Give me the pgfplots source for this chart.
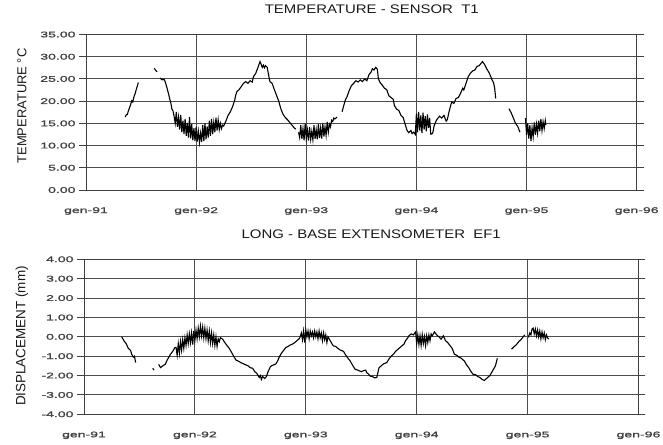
\documentclass[border=0pt]{standalone}
\usepackage{fontspec}
\setmainfont{Liberation Sans}
\newfontfamily\titlefont{Liberation Sans}[FakeStretch=1.2]
\newfontfamily\tickfont{Liberation Sans}[FakeStretch=1.7,FakeBold=1.2]
\usepackage{pgfplots}
\pgfplotsset{compat=1.18}
\pgfplotsset{
  tline/.style={black, line width=1.1bp, mark=none},
  myaxis/.style={
    scale only axis,
    anchor=south west,
    axis lines=box,
    xmin=1991, xmax=1996,
    xtick={1991,1992,1993,1994,1995,1996},
    xticklabels={gen-91,gen-92,gen-93,gen-94,gen-95,gen-96},
    grid=major,
    grid style={black!70, line width=0.9bp},
    axis line style={black!75, line width=0.9bp},
    tick align=outside,
    major tick length=7bp,
    xtick style={draw=none},
    ytick style={black!75, line width=0.9bp},
    xticklabel style={font=\tickfont\fontsize{8.3}{9}\selectfont, text=black!75, anchor=center, yshift=-14bp},
    yticklabel style={font=\tickfont\fontsize{8.3}{9}\selectfont, text=black!75, anchor=east},
    title style={font=\titlefont\fontsize{12.5}{14}\selectfont, text=black!90, anchor=base},
    ylabel style={rotate=0, anchor=center, text=black!90},
  }
}
\begin{document}
\begin{tikzpicture}
\useasboundingbox (0,0) rectangle (663bp,445bp);
%------------------------------------------------ TOP
\begin{axis}[myaxis,
  at={(86bp,255bp)}, width=550.7bp, height=155.5bp,
  ymin=0, ymax=35, ytick={0,5,10,15,20,25,30,35},
  yticklabels={0.00,5.00,10.00,15.00,20.00,25.00,30.00,35.00},
  title={TEMPERATURE - SENSOR~~T1},
  title style={at={(axis description cs:0.519,1)}, yshift=15bp},
  ylabel={TEMPERATURE °C},
  ylabel style={at={(axis description cs:-0.1162,0.54)}, font=\fontsize{13}{15}\selectfont},
]
\addplot[tline] coordinates {(1991.355,16.4) (1991.365,16.9) (1991.375,17.0) (1991.385,17.8) (1991.395,18.5) (1991.405,19.2) (1991.415,20.1) (1991.425,19.8) (1991.435,21.0) (1991.445,21.6) (1991.455,22.5) (1991.465,23.3) (1991.475,24.2)};
\addplot[tline] coordinates {(1991.62,27.4) (1991.63,27.0) (1991.645,26.6)};
\addplot[tline] coordinates {(1991.673,25.2)(1991.69,24.8)(1991.71,24.9)(1991.72,24.3)(1991.735,23.0)(1991.75,21.6)(1991.76,20.5)(1991.77,19.6)(1991.78,18.2)(1991.79,17.8)(1991.80,16.6)
(1991.81,15.0)(1991.82,17.6)(1991.83,14.2)(1991.84,16.4)(1991.85,13.6)(1991.86,16.9)(1991.87,13.0)(1991.88,15.6)(1991.89,12.6)(1991.90,16.0)(1991.91,12.2)(1991.92,15.1)(1991.93,11.8)(1991.94,16.4)(1991.95,11.6)(1991.96,14.8)(1991.97,11.2)(1991.98,13.9)(1991.99,11.0)(1992.00,14.2)(1992.01,10.9)(1992.02,13.2)(1992.03,10.7)(1992.04,12.8)(1992.05,10.8)(1992.06,14.6)(1992.07,11.0)(1992.08,15.0)(1992.09,11.4)(1992.10,14.3)(1992.11,11.8)(1992.12,15.6)(1992.13,12.2)(1992.14,16.0)(1992.15,12.6)(1992.16,15.2)(1992.17,13.0)(1992.18,16.3)(1992.19,13.4)(1992.20,15.8)(1992.21,13.6)(1992.22,15.0)(1992.23,13.8)(1992.24,14.6)
(1992.25,14.4)(1992.27,15.5)(1992.29,16.8)(1992.31,17.6)(1992.33,18.7)(1992.35,20.2)(1992.36,21.4)(1992.37,22.1)(1992.39,22.6)(1992.41,23.3)(1992.43,24.0)(1992.45,24.4)(1992.47,24.0)(1992.49,24.6)(1992.51,24.3)(1992.52,25.5)(1992.54,26.2)(1992.56,27.5)(1992.58,28.9)(1992.59,28.3)(1992.60,27.6)(1992.61,28.1)(1992.62,27.5)(1992.63,28.0)(1992.645,27.6)(1992.66,25.6)(1992.67,24.4)(1992.69,24.0)(1992.71,22.6)(1992.73,21.3)(1992.75,20.0)(1992.77,18.2)(1992.79,17.0)(1992.81,16.3)(1992.83,15.8)(1992.85,15.2)(1992.87,14.6)(1992.89,14.0)(1992.905,13.7)};
\addplot[tline] coordinates {(1992.93,13.0)(1992.94,11.8)(1992.95,14.6)(1992.96,11.5)(1992.97,13.8)(1992.98,11.2)(1992.99,14.9)(1993.00,11.6)(1993.01,13.5)(1993.02,11.1)(1993.03,14.2)(1993.04,11.4)(1993.05,13.2)(1993.06,11.3)(1993.07,14.6)(1993.08,11.5)(1993.09,13.6)(1993.10,11.4)(1993.11,14.8)(1993.12,11.7)(1993.13,13.9)(1993.14,11.6)(1993.15,15.0)(1993.16,12.0)(1993.17,14.2)(1993.18,12.3)(1993.19,15.3)(1993.20,13.0)(1993.21,14.8)(1993.22,14.2)(1993.23,15.7)(1993.24,15.4)(1993.25,16.2)(1993.26,16.0)(1993.28,16.4)};
\addplot[tline] coordinates {(1993.325,17.6)(1993.34,19.0)(1993.355,20.3)(1993.37,21.0)(1993.39,22.4)(1993.41,23.5)(1993.43,24.0)(1993.45,24.6)(1993.47,24.3)(1993.49,24.8)(1993.51,24.4)(1993.53,25.0)(1993.55,24.6)(1993.57,26.0)(1993.59,26.6)(1993.60,27.3)(1993.615,27.0)(1993.63,27.6)(1993.645,27.2)(1993.655,25.0)(1993.67,24.2)(1993.69,23.6)(1993.71,22.9)(1993.73,22.6)(1993.75,21.2)(1993.77,20.8)(1993.79,20.4)(1993.80,19.0)(1993.82,18.2)(1993.84,17.9)(1993.86,16.8)(1993.88,16.3)(1993.90,14.6)(1993.915,13.4)(1993.93,12.9)(1993.95,13.4)(1993.96,12.7)(1993.975,13.0)(1993.99,12.5)
(1994.00,17.2)(1994.01,13.0)(1994.02,17.6)(1994.03,13.4)(1994.04,16.8)(1994.05,12.8)(1994.06,17.4)(1994.07,13.6)(1994.08,16.6)(1994.09,13.2)(1994.10,17.0)(1994.11,14.0)(1994.12,16.2)(1994.13,12.6)(1994.14,12.6)(1994.15,13.0)
(1994.16,14.4)(1994.18,15.6)(1994.19,16.0)(1994.21,16.6)(1994.23,16.2)(1994.25,16.8)(1994.27,15.5)(1994.28,15.8)(1994.30,18.0)(1994.32,19.8)(1994.34,19.5)(1994.36,20.6)(1994.38,20.8)(1994.40,21.7)(1994.42,22.9)(1994.43,22.5)(1994.45,24.0)(1994.47,25.5)(1994.49,26.3)(1994.51,26.8)(1994.53,27.0)(1994.55,27.8)(1994.57,28.0)(1994.59,28.6)(1994.60,28.9)(1994.62,28.2)(1994.64,27.2)(1994.66,26.4)(1994.68,25.2)(1994.69,24.6)(1994.70,24.2)(1994.71,23.0)(1994.72,20.6)};
\addplot[tline] coordinates {(1994.84,18.3)(1994.86,17.4)(1994.88,16.2)(1994.90,15.0)(1994.92,14.3)(1994.94,13.0)};
\addplot[tline] coordinates {(1994.99,16.2)(1995.00,12.4)(1995.01,15.0)(1995.02,11.6)(1995.03,14.6)(1995.04,11.0)(1995.05,14.0)(1995.06,12.0)(1995.07,15.2)(1995.08,12.4)(1995.09,14.8)(1995.10,12.8)(1995.11,15.6)(1995.12,13.2)(1995.13,16.0)(1995.14,13.4)(1995.15,15.4)(1995.16,13.8)(1995.17,15.6)(1995.175,14.6)};
\end{axis}
%------------------------------------------------ BOTTOM
\begin{axis}[myaxis,
  at={(84bp,30.7bp)}, width=554.5bp, height=155bp,
  ymin=-4, ymax=4, ytick={-4,-3,-2,-1,0,1,2,3,4},
  yticklabels={-4.00,-3.00,-2.00,-1.00,0.00,1.00,2.00,3.00,4.00},
  title={LONG - BASE EXTENSOMETER~~EF1},
  title style={at={(axis description cs:0.518,1)}, yshift=15bp},
  ylabel={DISPLACEMENT (mm)},
  ylabel style={at={(axis description cs:-0.112,0.505)}, font=\fontsize{13.5}{15}\selectfont},
]
\addplot[tline] coordinates {(1991.34,0.0)(1991.36,-0.2)(1991.38,-0.35)(1991.40,-0.6)(1991.42,-0.7)(1991.43,-0.9)(1991.445,-1.05)(1991.455,-1.0)(1991.466,-1.33)};
\addplot[tline] coordinates {(1991.62,-1.62)(1991.63,-1.72)};
\addplot[tline] coordinates {(1991.673,-1.42)(1991.69,-1.59)(1991.71,-1.5)(1991.733,-1.42)(1991.75,-1.2)(1991.78,-0.9)(1991.80,-0.75)(1991.82,-0.55)
(1991.83,-0.55)(1991.84,-0.95)(1991.85,-0.35)(1991.86,-0.85)(1991.87,-0.25)(1991.88,-0.7)(1991.89,-0.15)(1991.90,-0.6)(1991.91,-0.05)(1991.92,-0.45)(1991.93,0.1)(1991.94,-0.35)(1991.95,0.15)(1991.96,-0.3)(1991.97,0.2)(1991.98,-0.4)(1991.99,0.3)(1992.00,-0.2)(1992.01,0.35)(1992.02,-0.1)(1992.03,0.45)(1992.04,0.0)(1992.05,0.55)(1992.06,0.05)(1992.07,0.5)(1992.08,-0.05)(1992.09,0.45)(1992.10,-0.1)(1992.11,0.35)(1992.12,-0.2)(1992.13,0.3)(1992.14,-0.3)(1992.15,0.2)(1992.16,-0.35)(1992.17,0.1)(1992.18,-0.45)(1992.19,0.0)(1992.20,-0.5)(1992.21,-0.1)(1992.22,-0.25)(1992.23,-0.05)
(1992.25,-0.12)(1992.27,-0.3)(1992.29,-0.45)(1992.31,-0.6)(1992.33,-0.8)(1992.35,-1.0)(1992.37,-1.2)(1992.39,-1.25)(1992.42,-1.35)(1992.44,-1.4)(1992.46,-1.45)(1992.48,-1.5)(1992.50,-1.6)(1992.52,-1.62)(1992.54,-1.8)(1992.56,-1.9)(1992.58,-2.1)(1992.59,-2.0)(1992.60,-2.2)(1992.61,-2.05)(1992.63,-2.15)(1992.645,-2.05)(1992.66,-1.8)(1992.68,-1.55)(1992.69,-1.5)(1992.71,-1.45)(1992.73,-1.4)(1992.75,-1.2)(1992.76,-1.05)(1992.78,-0.85)(1992.80,-0.7)(1992.82,-0.55)(1992.84,-0.5)(1992.86,-0.42)(1992.88,-0.38)(1992.90,-0.3)(1992.92,-0.2)(1992.945,-0.07)
(1992.96,0.2)(1992.97,-0.15)(1992.98,0.3)(1992.99,-0.3)(1993.00,0.35)(1993.01,0.0)(1993.02,0.3)(1993.03,-0.1)(1993.04,0.3)(1993.05,0.05)(1993.06,0.25)(1993.07,-0.05)(1993.08,0.3)(1993.09,0.0)(1993.10,0.25)(1993.11,-0.1)(1993.12,0.3)(1993.13,-0.05)(1993.14,0.2)(1993.15,-0.2)(1993.16,0.2)(1993.17,-0.15)(1993.18,0.1)(1993.19,-0.3)(1993.20,0.0)(1993.21,-0.1)(1993.22,-0.2)
(1993.24,-0.4)(1993.25,-0.47)(1993.27,-0.5)(1993.29,-0.6)(1993.31,-0.68)(1993.34,-0.75)(1993.36,-0.95)(1993.38,-1.1)(1993.40,-1.25)(1993.42,-1.45)(1993.445,-1.68)(1993.46,-1.7)(1993.48,-1.75)(1993.50,-1.8)(1993.52,-1.75)(1993.54,-1.72)(1993.55,-1.85)(1993.57,-1.95)(1993.58,-2.03)(1993.60,-2.05)(1993.62,-2.12)(1993.64,-2.1)(1993.65,-1.85)(1993.66,-1.6)(1993.68,-1.5)(1993.70,-1.4)(1993.73,-1.33)(1993.75,-1.15)(1993.77,-1.0)(1993.79,-0.9)(1993.81,-0.75)(1993.83,-0.65)(1993.86,-0.5)(1993.885,-0.38)(1993.90,-0.2)(1993.92,-0.05)(1993.93,0.05)(1993.95,0.15)(1993.97,0.1)(1993.99,0.25)
(1994.00,-0.35)(1994.01,0.1)(1994.02,-0.4)(1994.03,0.05)(1994.04,-0.45)(1994.05,0.1)(1994.06,-0.35)(1994.07,0.0)(1994.08,-0.45)(1994.09,0.05)(1994.10,-0.3)(1994.11,0.1)(1994.12,-0.2)(1994.13,0.15)(1994.14,0.05)
(1994.16,0.25)(1994.18,0.1)(1994.20,0.0)(1994.22,-0.12)(1994.24,0.05)(1994.26,-0.2)(1994.28,-0.3)(1994.30,-0.45)(1994.32,-0.6)(1994.34,-0.9)(1994.36,-0.95)(1994.38,-1.05)(1994.40,-1.1)(1994.43,-1.25)(1994.45,-1.45)(1994.47,-1.6)(1994.49,-1.8)(1994.51,-1.94)(1994.53,-1.95)(1994.55,-2.05)(1994.57,-2.1)(1994.59,-2.2)(1994.61,-2.25)(1994.63,-2.15)(1994.65,-2.05)(1994.66,-2.0)(1994.68,-1.8)(1994.70,-1.6)(1994.71,-1.5)(1994.727,-1.11)};
\addplot[tline] coordinates {(1994.855,-0.64)(1994.88,-0.5)(1994.90,-0.4)(1994.92,-0.25)(1994.94,-0.15)(1994.96,0.0)(1994.975,0.1)};
\addplot[tline] coordinates {(1995.006,-0.03)(1995.02,0.2)(1995.03,0.1)(1995.04,0.4)(1995.05,0.45)(1995.06,0.15)(1995.07,0.4)(1995.08,0.05)(1995.09,0.35)(1995.10,0.0)(1995.11,0.3)(1995.12,-0.1)(1995.13,0.25)(1995.14,-0.05)(1995.15,0.2)(1995.16,-0.15)(1995.17,0.1)(1995.18,-0.05)(1995.19,-0.12)};
\end{axis}
\end{tikzpicture}
\end{document}
